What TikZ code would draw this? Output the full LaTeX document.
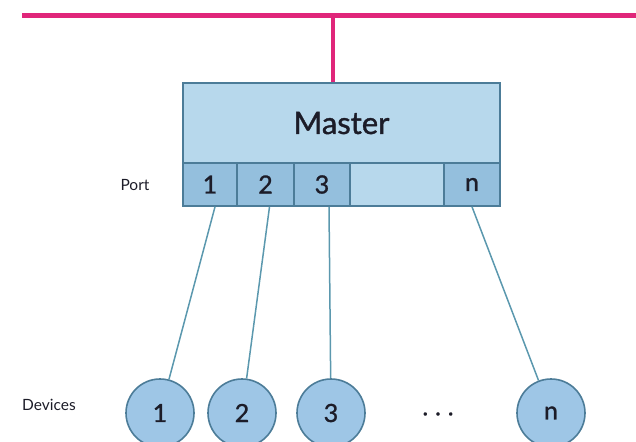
\documentclass[tikz,border=0pt]{standalone}
\usepackage{fontspec}
\setmainfont{Lato}
\newfontfamily\medfont{Lato}[FakeBold=1.2]
\definecolor{busc}{HTML}{E0267A}
\definecolor{boxfill}{HTML}{B7D8EC}
\definecolor{portfill}{HTML}{94BFDD}
\definecolor{edge}{HTML}{4C7C98}
\definecolor{devfill}{HTML}{9EC6E6}
\definecolor{wire}{HTML}{5B98AE}
\definecolor{txt}{HTML}{1C1C28}
\begin{document}
\begin{tikzpicture}[x=1pt,y=-1pt,
  mbox/.style={draw=edge,line width=1.6pt,fill=boxfill,inner sep=0pt,text=txt},
  portbox/.style={draw=edge,line width=1.6pt,fill=portfill,inner sep=0pt,minimum height=43pt,text=txt,font=\medfont\fontsize{25}{25}\selectfont},
  dev/.style={circle,draw=edge,line width=1.6pt,fill=devfill,minimum size=68pt,inner sep=0pt,text=txt,font=\medfont\fontsize{25}{25}\selectfont},
  lab/.style={text=txt,font=\fontsize{15.5}{15.5}\selectfont},
  wireline/.style={draw=wire,line width=1.5pt}]
\useasboundingbox (0,0) rectangle (636,441);
% bus
\coordinate (busL) at (22,16);
\coordinate (busR) at (636,16);
\coordinate (busJ) at (333,16);
\draw[busc,line width=5pt] (busL) -- (busR);
% master
\node[mbox,minimum width=317pt,minimum height=80pt,font=\medfont\fontsize{31}{31}\selectfont] (master) at (341.5,123) {Master};
\draw[busc,line width=4pt] (busJ) -- (busJ |- master.north);
% ports
\node[portbox,minimum width=54pt] (p1) at (210,184.5) {1};
\node[portbox,minimum width=57pt] (p2) at (265.5,184.5) {2};
\node[portbox,minimum width=56pt] (p3) at (322,184.5) {3};
\node[portbox,minimum width=94pt,fill=boxfill] (pe) at (397,184.5) {};
\node[portbox,minimum width=56pt] (pn) at (472,184.5) {n};
\node[lab] (portlab) at (135,185) {Port};
% devices
\node[dev] (d1) at (160,413) {1};
\node[dev] (d2) at (242,413) {2};
\node[dev] (d3) at (331,413) {3};
\node[dev] (dn) at (551,413) {n};
\node[text=txt,font=\medfont\fontsize{24}{24}\selectfont] (dots) at (438,414) {.\hspace{7pt}.\hspace{7pt}.};
\node[lab] (devlab) at (49,405) {Devices};
% wires
\draw[wireline] ([xshift=5pt]p1.south) -- (d1);
\draw[wireline] ([xshift=4pt]p2.south) -- (d2);
\draw[wireline] ([xshift=7pt]p3.south) -- (d3);
\draw[wireline] (pn.south) -- (dn);
\end{tikzpicture}
\end{document}
